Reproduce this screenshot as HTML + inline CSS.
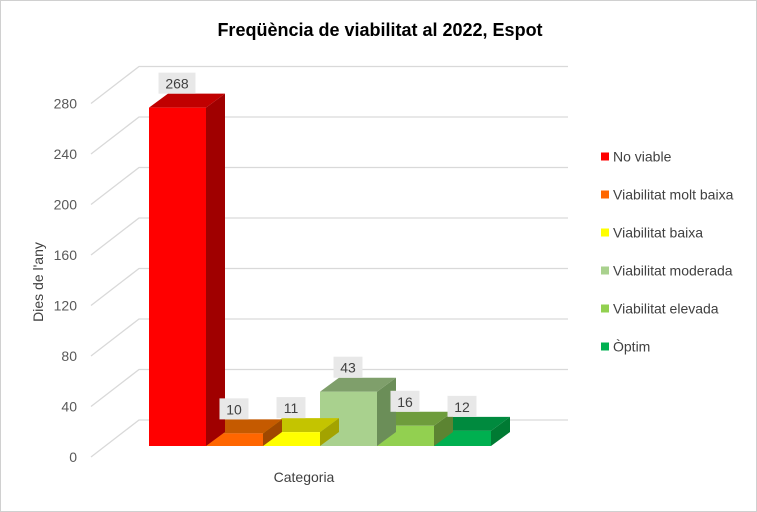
<!DOCTYPE html>
<html><head><meta charset="utf-8">
<style>
html,body{margin:0;padding:0;background:#fff;}
#wrap{position:relative;width:757px;height:512px;box-sizing:border-box;border:1px solid #d0d0d0;overflow:hidden;}
svg{position:absolute;left:0;top:0;}
text{font-family:"Liberation Sans",sans-serif;}
</style></head>
<body>
<div id="wrap">
<svg id="chart" width="757" height="512"></svg>
</div>
<script>
const categories = ["No viable","Viabilitat molt baixa","Viabilitat baixa","Viabilitat moderada","Viabilitat elevada","Òptim"];
const values = [268,10,11,43,16,12];
const yTicks = [0,40,80,120,160,200,240,280];
const frontCol = ["#FF0000","#FF6600","#FFFF00","#A9D18E","#92D050","#00B050"];
const topCol = ["#C00000","#C55A00","#C4C400","#7F9F6B","#6E9C3C","#008A3E"];
const sideCol = ["#A00000","#A04800","#A3A300","#6B8E58","#5C8432","#007A33"];

const NS="http://www.w3.org/2000/svg";
const svg=document.getElementById('chart');
function mk(tag,attrs,parent){const e=document.createElementNS(NS,tag);for(const k in attrs)e.setAttribute(k,attrs[k]);(parent||svg).appendChild(e);return e;}
const PX=1.2625;
const yFront=v=>456-v*PX;
const yBack=v=>419-v*PX;
const yBar=v=>445-v*PX;
const barX=i=>148+i*57;
const BW=57, DX=19, DY=-14;

let t=mk('text',{x:379,y:35,'text-anchor':'middle','font-size':'18','font-weight':'bold',fill:'#000'});
t.textContent="Freqüència de viabilitat al 2022, Espot";



yTicks.forEach(v=>{
  const g=mk('polyline',{points:`90,${yFront(v)} 138,${yBack(v)} 567,${yBack(v)}`,fill:'none',stroke:'#d9d9d9','stroke-width':1.3});
  
  
  const l=mk('text',{x:76,y:yFront(v)+5,'text-anchor':'end','font-size':'14',fill:'#595959'});
  l.textContent=v;
  
  
});

for(let i=values.length-1;i>=0;i--){
  const x=barX(i), y=yBar(values[i]), b=yBar(0);
  const g=mk('g',{});
  
  
  mk('polygon',{points:`${x+BW},${y} ${x+BW+DX},${y+DY} ${x+BW+DX},${b+DY} ${x+BW},${b}`,fill:sideCol[i]},g);
  mk('polygon',{points:`${x},${y} ${x+DX},${y+DY} ${x+BW+DX},${y+DY} ${x+BW},${y}`,fill:topCol[i]},g);
  mk('rect',{x:x,y:y,width:BW,height:b-y,fill:frontCol[i]},g);
}
values.forEach((v,i)=>{
  const cx=barX(i)+28, ty=yBar(v)+DY-5;
  const s=String(v), w=s.length*8+13;
  const r=mk('rect',{x:cx-w/2,y:ty-16,width:w,height:21,fill:'#E8E8E8'});
  
  
  const tt=mk('text',{x:cx,y:ty,'text-anchor':'middle','font-size':'14',fill:'#404040'});
  tt.textContent=s;
  
  
});

let yt=mk('text',{x:0,y:0,transform:'translate(42,281) rotate(-90)','text-anchor':'middle','font-size':'14',fill:'#404040'});
yt.textContent="Dies de l'any";


let xt=mk('text',{x:303,y:481,'text-anchor':'middle','font-size':'14',fill:'#404040'});
xt.textContent="Categoria";



categories.forEach((c,i)=>{
  const y=155.5+i*38;
  const g=mk('g',{});
  
  
  mk('rect',{x:600,y:y-4,width:8,height:8,fill:frontCol[i]},g);
  const tx=mk('text',{x:612,y:y+5,'font-size':'14',fill:'#404040',textLength:c.length>10?undefined:null},g);
  tx.removeAttribute('textLength');
  tx.textContent=c;
});
</script>
</body></html>
